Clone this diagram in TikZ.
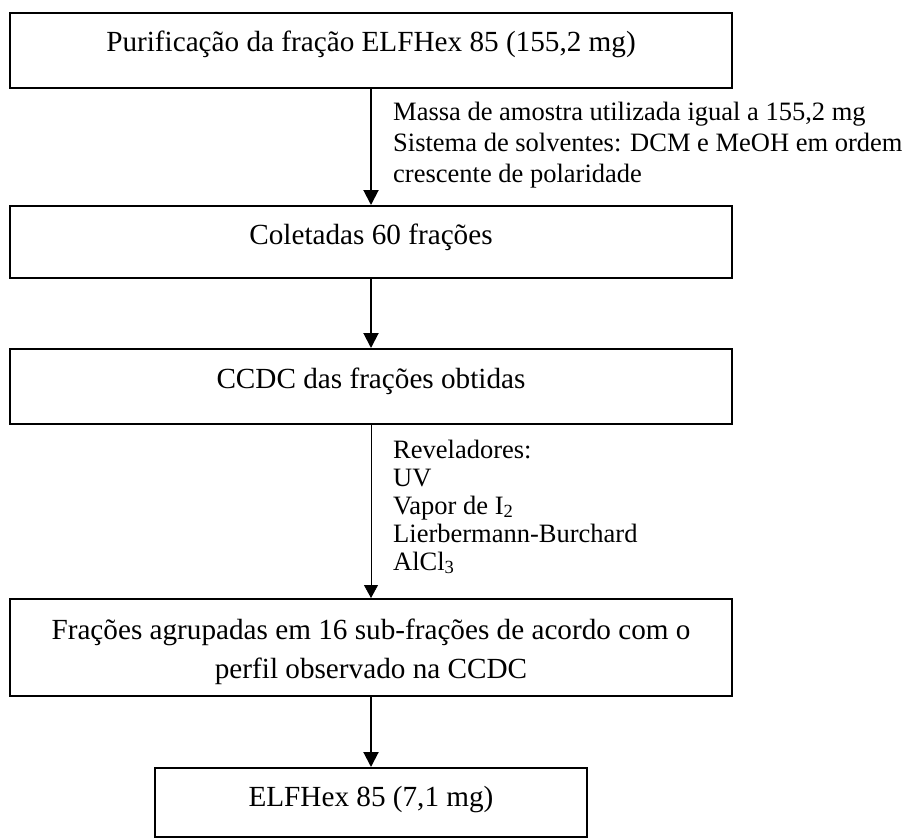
\documentclass[tikz,border=0pt]{standalone}
\usepackage{fontspec}
\setmainfont{Liberation Serif}
\usetikzlibrary{arrows.meta}

\begin{document}
\begin{tikzpicture}[x=1pt, y=-1pt]
		\tikzset{
			stage/.style={
				draw,
				line width=2.2pt,
				anchor=north,
				inner xsep=0pt,
				inner ysep=0pt,
				minimum width=722pt,
				text height=38pt,
				text depth=37pt,
				align=center,
				font=\fontsize{29.2pt}{39pt}\selectfont
			},
			note/.style={
				anchor=base west,
				inner sep=0pt,
				align=left,
				font=\fontsize{26.5pt}{31pt}\selectfont
			},
			line/.style={
				-{Triangle[width=15pt,length=15pt]},
				line width=2pt
			},
			thinline/.style={
				-{Triangle[width=14pt,length=13pt]},
				line width=0.8pt
			}
		}

		\useasboundingbox (0,0) rectangle (905,838);

		\node[stage] (purif) at (371, 12)
			{Purificação da fração ELFHex 85 (155,2 mg)};
		\node[stage, text depth=34pt] (colet) at (371, 205)
			{Coletadas 60 frações};
		\node[stage, text height=39pt, text depth=36pt] (ccdc) at (371, 348)
			{CCDC das frações obtidas};
		\node[stage, text height=79pt, text depth=18pt] (grupo) at (371, 598)
			{Frações agrupadas em 16 sub-frações de acordo com o\\ perfil observado na CCDC};
		\node[stage, minimum width=432pt, text depth=31pt] (final) at (371, 767)
			{ELFHex 85 (7,1 mg)};

		% last line of each note sits on its base
		\node[note] (cond) at (393, 182)
			{Massa de amostra utilizada igual a 155,2 mg\\ Sistema de solventes: DCM e MeOH em ordem\\ crescente de polaridade};
		\node[note, font=\fontsize{26.5pt}{28pt}\selectfont] (revel) at (393, 570)
			{Reveladores:\\ UV\\ Vapor de I\textsubscript{2}\\ Lierbermann-Burchard\\ AlCl\textsubscript{3}};

		\draw[line] (purif) -- (colet);
		\draw[line] (colet) -- (ccdc);
		\draw[thinline] (ccdc) -- (grupo);
		\draw[line] (grupo) -- (final);

	\end{tikzpicture}
\end{document}
